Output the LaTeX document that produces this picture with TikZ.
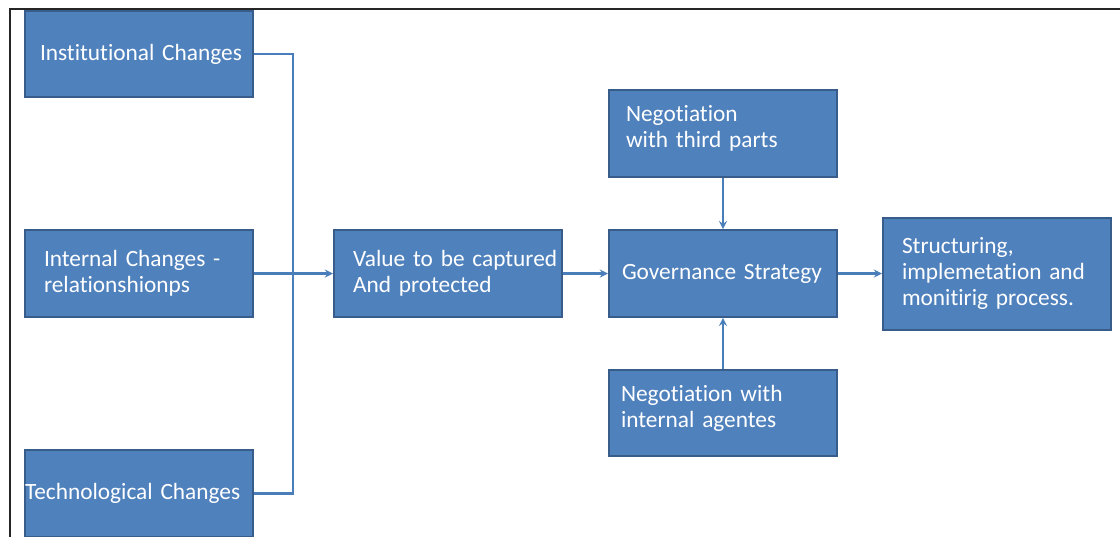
\documentclass[tikz,border=0pt]{standalone}
\usepackage{fontspec}
\setmainfont{Carlito}[Ligatures=NoCommon,WordSpace=0.75]
\usepackage{tikz}
\usetikzlibrary{arrows,calc}
\definecolor{boxblue}{HTML}{4F81BD}
\definecolor{boxedge}{HTML}{385D8A}
\definecolor{linkblue}{HTML}{4A7EBB}
\newdimen\pxu \pxu=0.75pt
\tikzset{
  box/.style={draw=boxedge,line width=1.5pt,fill=boxblue,text=white,align=left,
    text width=171pt,minimum height=65pt,inner xsep=0pt,inner ysep=0pt,
    font=\fontsize{17.5}{19.5}\selectfont,
    execute at begin node={\leftskip=#1\pxu}},
  box/.default=15,
  link/.style={draw=linkblue,line width=1.7pt},
}

\begin{document}
\begin{tikzpicture}[x=0.75pt,y=-0.75pt]
      \useasboundingbox (0,0) rectangle (1120,536);
      \draw[line width=1.5pt,black!85] (10,540) -- (10,8.5) -- (1125,8.5);

      \node (inst) at (139,54) [box=15] {Institutional Changes};
      \node (intern) at (139,273.5) [box=19] {Internal Changes -\\relationshionps};
      \node (techn) at (139,493.5) [box=0] {Technological Changes};

      \node (value) at (448,273.5) [box=19] {Value to be captured\\And protected};
      \node (gov) at (723,273.5) [box=13] {Governance Strategy};
      \node (third) at (723,133.5) [box=17] {Negotiation\\with third parts\rule[-11pt]{0pt}{0pt}};
      \node (agent) at (723,413) [box=12] {Negotiation with\\internal agentes\rule[-9.5pt]{0pt}{0pt}};
      \node (struct) at (997,273.5) [box=19,minimum height=84pt] {Structuring,\\implemetation and\\monitirig process.};

      \coordinate (bus) at (293,0);
      \draw[link] (inst.east) -| (bus |- techn.east) -- (techn.east);
      \draw[link,-stealth] (intern.east) -- (value.west);
      \draw[link,-stealth] (value.east) -- (gov.west);
      \draw[link,-stealth] (gov.east) -- (struct.west);
      \draw[link,-stealth] (third.south) -- (gov.north);
      \draw[link,-stealth] (agent.north) -- (gov.south);
\end{tikzpicture}
\end{document}
